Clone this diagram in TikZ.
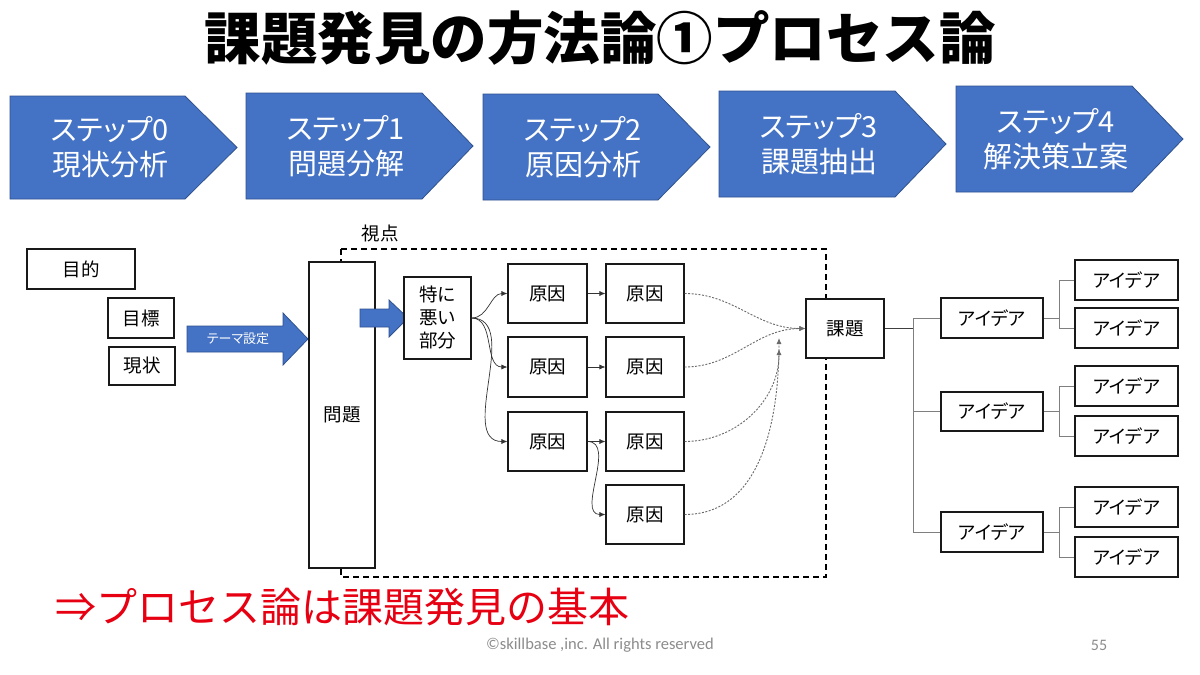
\documentclass[tikz,border=0pt]{standalone}
\usepackage{fontspec}
\newfontfamily\jp{Noto Sans CJK JP}
\newfontfamily\jpp{Noto Sans CJK JP}[RawFeature=+palt]
\newfontfamily\footfont{Carlito}
\usetikzlibrary{arrows.meta}
\definecolor{blu}{HTML}{4472C4}
\definecolor{bluedge}{HTML}{2F528F}
\definecolor{redtxt}{HTML}{E60012}
\definecolor{conn}{HTML}{7F7F7F}
\definecolor{dotc}{HTML}{6A6A6A}
\definecolor{foot}{HTML}{8C8C8C}
\begin{document}
\begin{tikzpicture}[x=1pt,y=-1pt,
  chev/.style={fill=blu,draw=bluedge,line width=0.8pt},
  steptxt/.style={text=white,font=\jpp\fontsize{29}{35}\selectfont,align=center,inner sep=0},
  bx/.style={draw=black!90,line width=1.1pt,fill=white,inner sep=0,font=\jpp\fontsize{18.5}{23}\selectfont,align=center},
  thinarr/.style={draw=black!80,line width=0.7pt,-{Latex[length=6pt,width=5pt]}},
  dotarr/.style={draw=dotc,line width=0.9pt,dash pattern=on 2pt off 1.5pt,-{Latex[length=6pt,width=5pt]}},
  tree/.style={draw=conn,line width=1pt}]
\fill[white] (0,0) rectangle (1200,675);
\useasboundingbox (0,0) rectangle (1200,675);

% title
\node[font=\jp\bfseries\fontsize{56.5}{60}\selectfont,inner sep=0] (title) at (600,38) {課題発見の方法論①プロセス論};

% step chevrons
\draw[chev] (10,96) -- (185,96) -- (237,147.5) -- (185,199) -- (10,199) -- cycle;
\node[steptxt] (s0) at (110,147.5) {ステップ0\\現状分析};
\draw[chev] (246,93) -- (422,93) -- (473,146) -- (422,199) -- (246,199) -- cycle;
\node[steptxt] (s1) at (346,146) {ステップ1\\問題分解};
\draw[chev] (483,94) -- (658,94) -- (710,147) -- (658,200) -- (483,200) -- cycle;
\node[steptxt] (s2) at (583,147) {ステップ2\\原因分析};
\draw[chev] (719,91) -- (895,91) -- (946,144) -- (895,197) -- (719,197) -- cycle;
\node[steptxt] (s3) at (819,144) {ステップ3\\課題抽出};
\draw[chev] (956,86) -- (1132,86) -- (1183,139) -- (1132,192) -- (956,192) -- cycle;
\node[steptxt] (s4) at (1056,139) {ステップ4\\解決策立案};

% left boxes
\node[bx,minimum width=108pt,minimum height=40pt] (mokuteki) at (81,269) {目的};
\node[bx,minimum width=66pt,minimum height=40pt] (mokuhyo) at (141,318) {目標};
\node[bx,minimum width=66pt,minimum height=38pt] (genjo) at (142,366) {現状};

% theme arrow
\draw[chev] (187,326) -- (283,326) -- (283,313) -- (308,339) -- (283,365) -- (283,352) -- (187,352) -- cycle;
\node[text=white,font=\jpp\fontsize{13}{15}\selectfont,inner sep=0] (theme) at (238,339) {テーマ設定};

% viewpoint dashed frame
\draw[line width=1.3pt,dash pattern=on 6pt off 4pt] (341,249) rectangle (826,577);
\node[font=\jpp\fontsize{18.5}{22}\selectfont,inner sep=0] (shiten) at (380,233) {視点};

\node[bx,minimum width=66pt,minimum height=306pt] (mondai) at (342,415) {問題};

% small arrow
\draw[chev] (360,309) -- (389,309) -- (389,300) -- (408,318) -- (389,337) -- (389,327) -- (360,327) -- cycle;

\node[bx,minimum width=67pt,minimum height=82pt] (toku) at (437.5,318) {特に\\悪い\\部分};

% causes
\node[bx,minimum width=79pt,minimum height=59pt] (c1a) at (547.5,293.5) {原因};
\node[bx,minimum width=79pt,minimum height=60pt] (c1b) at (547.5,367) {原因};
\node[bx,minimum width=79pt,minimum height=59pt] (c1c) at (547.5,441.5) {原因};
\node[bx,minimum width=78pt,minimum height=59pt] (c2a) at (645,293.5) {原因};
\node[bx,minimum width=78pt,minimum height=60pt] (c2b) at (645,367) {原因};
\node[bx,minimum width=78pt,minimum height=59pt] (c2c) at (645,441.5) {原因};
\node[bx,minimum width=78pt,minimum height=59pt] (c2d) at (645,514.5) {原因};

\node[bx,minimum width=78pt,minimum height=59pt] (kadai) at (845,328.5) {課題};

\draw[thinarr] (toku.east) to[out=0,in=180] (c1a.west);
\draw[thinarr] (toku.east) to[out=0,in=180] (c1b.west);
\draw[thinarr] (toku.east) to[out=0,in=180] (c1c.west);
\draw[thinarr] (c1a.east) -- (c2a.west);
\draw[thinarr] (c1b.east) -- (c2b.west);
\draw[thinarr] (c1c.east) -- (c2c.west);
\draw[thinarr] (c1c.east) to[out=0,in=180] (c2d.west);

\coordinate (p1) at (779,349);
\coordinate (p2) at (779,338);
\draw[dotarr] (c2a.east) to[out=0,in=180] (kadai.west);
\draw[dotarr] (c2b.east) to[out=0,in=180] (kadai.west);
\draw[dotarr] (c2c.east) to[out=0,in=-90] (p1);
\draw[dotarr] (c2d.east) to[out=0,in=-90] (p2);

% ideas
\node[bx,minimum width=102pt,minimum height=40pt] (i1) at (992,318) {アイデア};
\node[bx,minimum width=102pt,minimum height=39pt] (i2) at (992,411.5) {アイデア};
\node[bx,minimum width=102pt,minimum height=40pt] (i3) at (992,532) {アイデア};
\node[bx,minimum width=103pt,minimum height=40pt] (i1a) at (1126.5,280) {アイデア};
\node[bx,minimum width=103pt,minimum height=40pt] (i1b) at (1126.5,328) {アイデア};
\node[bx,minimum width=103pt,minimum height=40pt] (i2a) at (1126.5,386) {アイデア};
\node[bx,minimum width=103pt,minimum height=40pt] (i2b) at (1126.5,436) {アイデア};
\node[bx,minimum width=103pt,minimum height=40pt] (i3a) at (1126.5,507) {アイデア};
\node[bx,minimum width=103pt,minimum height=40pt] (i3b) at (1126.5,557) {アイデア};

\coordinate (j) at (913,328.5);
\draw[draw=black!75,line width=1pt] (kadai.east) -- (j);
\draw[tree] (i1.west) -- (i1.west -| j) -- (i3.west -| j) -- (i3.west);
\draw[tree] (i2.west) -- (i2.west -| j);

\draw[tree] (i1.east) -- ++(16,0) coordinate (j1);
\draw[tree] (i1a.west) -| (j1) |- (i1b.west);
\draw[tree] (i2.east) -- ++(16,0) coordinate (j2);
\draw[tree] (i2a.west) -| (j2) |- (i2b.west);
\draw[tree] (i3.east) -- ++(16,0) coordinate (j3);
\draw[tree] (i3a.west) -| (j3) |- (i3b.west);

% conclusion
\node[anchor=west,text=redtxt,font=\jp\fontsize{41}{44}\selectfont,inner sep=0] (concl) at (55,607) {⇒プロセス論は課題発見の基本};

% footer
\node[text=foot,font=\footfont\fontsize{16.5}{18}\selectfont,inner sep=0] (copy) at (600,645) {©skillbase ,inc. All rights reserved};
\node[text=foot,font=\footfont\fontsize{16}{18}\selectfont,inner sep=0] (page) at (1099,645) {55};
\end{tikzpicture}
\end{document}
